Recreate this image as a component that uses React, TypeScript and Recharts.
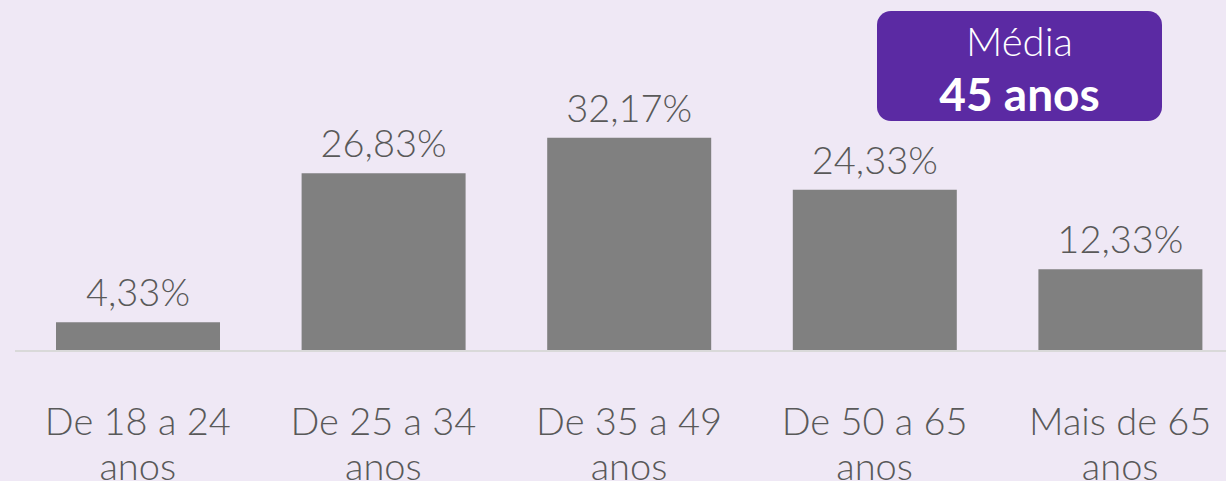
import { Bar, BarChart, LabelList, XAxis, YAxis } from 'recharts'

const categories = [
  'De 18 a 24 anos',
  'De 25 a 34 anos',
  'De 35 a 49 anos',
  'De 50 a 65 anos',
  'Mais de 65 anos',
]
const shares = [4.33, 26.83, 32.17, 24.33, 12.33]
const badgeTitle = 'Média'
const badgeValue = '45 anos'

const data = categories.map((name, i) => ({ name, value: shares[i] }))

const FONT = 'Lato, "Noto Sans", sans-serif'
const TEXT = '#595959'

function pct(v: number | string): string {
  return Number(v).toFixed(2).replace('.', ',') + '%'
}

// two-line tick: "De 18 a 24" / "anos"
function CategoryTick(props: any) {
  const { x, y, payload } = props
  const words = String(payload.value).split(' ')
  const last = words.pop()
  return (
    <g transform={`translate(${x},${y})`}>
      <text
        textAnchor="middle"
        fill={TEXT}
        fontFamily={FONT}
        fontWeight={300}
        fontSize={38}
      >
        <tspan x={0} y={76}>{words.join(' ')}</tspan>
        <tspan x={0} y={121}>{last}</tspan>
      </text>
    </g>
  )
}

export default function App() {
  return (
    <div
      style={{
        position: 'absolute',
        left: 0,
        top: 0,
        width: 1226,
        height: 481,
        overflow: 'hidden',
        background: '#EFE8F5',
      }}
    >
      <BarChart
        width={1243}
        height={481}
        data={data}
        margin={{ top: 86, right: 0, left: 15, bottom: 0 }}
        barSize={164}
      >
        <XAxis
          dataKey="name"
          height={130}
          tick={<CategoryTick />}
          tickLine={false}
          axisLine={{ stroke: '#D9D9D9', strokeWidth: 2 }}
          interval={0}
        />
        <YAxis hide domain={[0, 40]} />
        <Bar dataKey="value" fill="#808080" isAnimationActive={false}>
          <LabelList
            dataKey="value"
            position="top"
            offset={16}
            formatter={pct}
            fill={TEXT}
            fontFamily={FONT}
            fontWeight={300}
            fontSize={38}
          />
        </Bar>
      </BarChart>
      <div
        style={{
          position: 'absolute',
          left: 877,
          top: 11,
          width: 285,
          height: 110,
          borderRadius: 14,
          background: '#5B2AA3',
          color: '#fff',
          fontFamily: FONT,
          textAlign: 'center',
        }}
      >
        <div
          style={{
            position: 'absolute',
            left: 0,
            right: 0,
            top: 10,
            fontSize: 40,
            fontWeight: 300,
            lineHeight: '40px',
          }}
        >
          {badgeTitle}
        </div>
        <div
          style={{
            position: 'absolute',
            left: 0,
            right: 0,
            top: 60,
            fontSize: 46,
            fontWeight: 700,
            lineHeight: '46px',
          }}
        >
          {badgeValue}
        </div>
      </div>
    </div>
  )
}
